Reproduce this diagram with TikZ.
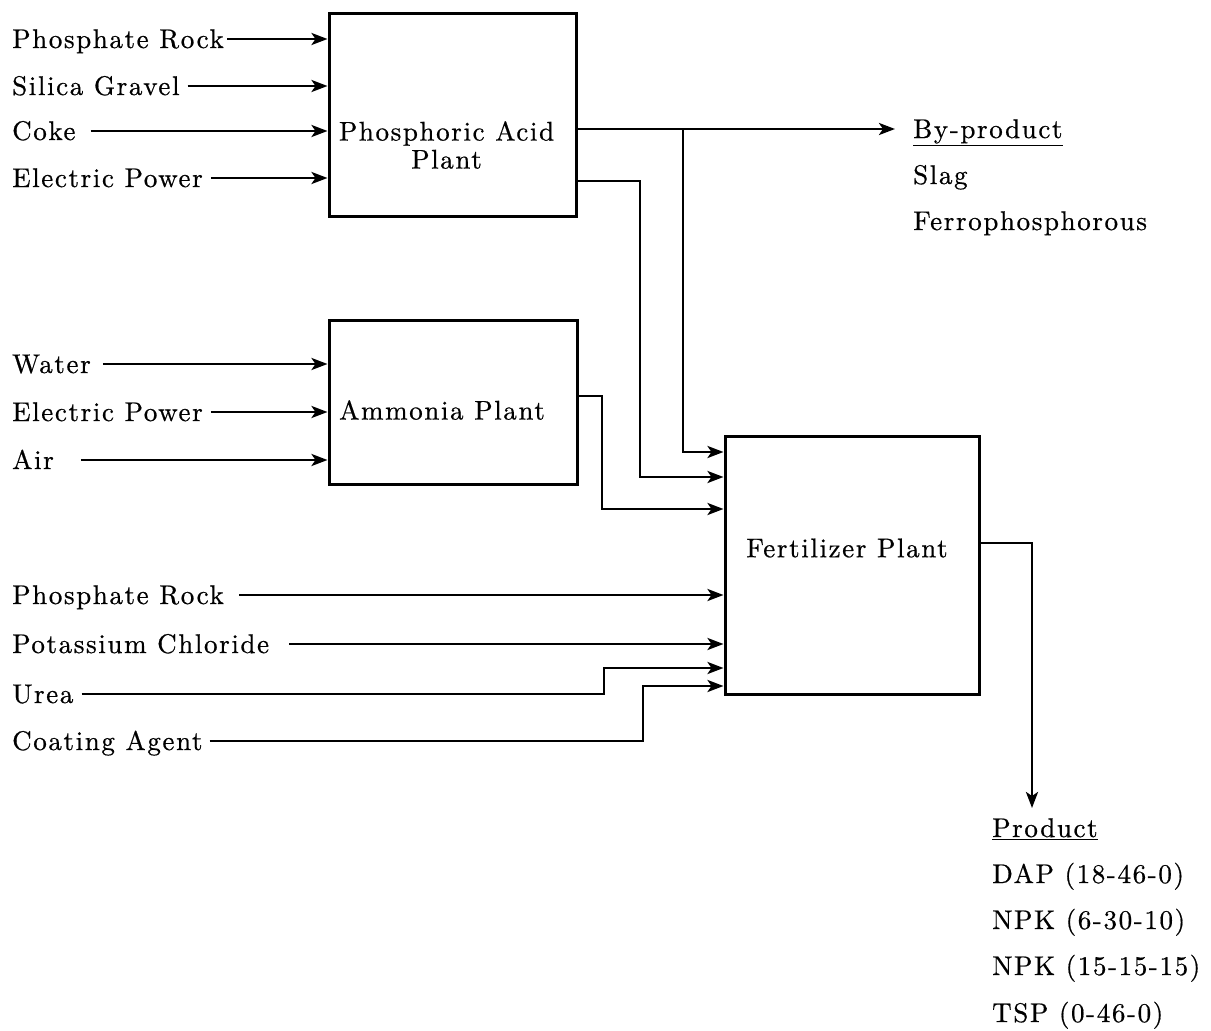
\documentclass[tikz,border=0pt]{standalone}
\usepackage{fontspec}
\usepackage{tikz}
\usetikzlibrary{arrows.meta}

\newfontfamily\dfont{lmroman10-regular.otf}[LetterSpace=6,FakeBold=0.6]

\tikzset{
  txt/.style={font=\dfont\fontsize{27}{31}\selectfont, inner sep=0pt, text height=18pt, text depth=0pt},
  boxtxt/.style={font=\dfont\fontsize{27}{28}\selectfont, inner sep=0pt, align=center},
  plant/.style={draw, line width=3pt, inner sep=0pt},
  flow/.style={line width=2.8pt, -{Stealth[length=16pt,width=12pt,inset=4pt]}},
}

\begin{document}
\begin{tikzpicture}[x=1pt,y=-1pt]
\useasboundingbox (0,0) rectangle (1211,1031);
% Plants
\node[plant, minimum width=247, minimum height=203] (pa) at (452.5,114.5) {};
\node[boxtxt] (pa-txt) at (446.5,145) {Phosphoric Acid\\Plant};
\node[plant, minimum width=248, minimum height=164] (am) at (453,402) {};
\node[boxtxt] (am-txt) at (442,410) {Ammonia Plant};
\node[plant, minimum width=254, minimum height=258] (fert) at (852,565) {};
\node[boxtxt] (fert-txt) at (847,548) {Fertilizer Plant};
% Feeds of the phosphoric acid plant
\foreach \n/\t/\y/\g in {1/Phosphate Rock/39/3, 2/Silica Gravel/86/8, 3/Coke/131/15, 4/Electric Power/178/8} {
  \node[txt, anchor=west] (pa-in\n) at (12,\y) {\t};
  \draw[flow, shorten <=\g pt] (pa-in\n.east) -- (pa-in\n -| pa.west);
}
% Feeds of the ammonia plant
\foreach \n/\t/\y/\g in {1/Water/364/12, 2/Electric Power/412/8, 3/Air/460/27} {
  \node[txt, anchor=west] (am-in\n) at (12,\y) {\t};
  \draw[flow, shorten <=\g pt] (am-in\n.east) -- (am-in\n -| am.west);
}
% Direct feeds of the fertilizer plant
\foreach \n/\t/\y/\g in {1/Phosphate Rock/595/15, 2/Potassium Chloride/644/20} {
  \node[txt, anchor=west] (fp-in\n) at (12,\y) {\t};
  \draw[flow, shorten <=\g pt] (fp-in\n.east) -- (fp-in\n -| fert.west);
}
\node[txt, anchor=west] (urea) at (12,694) {Urea};
\draw[flow, shorten <=8pt] (urea.east) -| (604,668) -- (fert.west |- 0,668);
\node[txt, anchor=west] (coat) at (12,741) {Coating Agent};
\draw[flow, shorten <=7pt] (coat.east) -| (643,686) -- (fert.west |- 0,686);
% By-product
\node[txt, anchor=west] (byp) at (913,129) {\underline{By-product}};
\node[txt, anchor=west] (slag) at (913,175) {Slag};
\node[txt, anchor=west] (ferro) at (913,221) {Ferrophosphorous};
\draw[flow] (pa.east |- 0,129) -- ([xshift=-18pt]byp.west);
\coordinate (split) at (683,129);
\draw[flow] (split) |- (fert.west |- 0,452);
\draw[flow] (pa.east |- 0,181) -| (640,477) -- (fert.west |- 0,477);
% Ammonia to fertilizer plant
\draw[flow] (am.east |- 0,396) -| (602,509) -- (fert.west |- 0,509);
% Product
\node[txt, anchor=west] (prod) at (992,828) {\underline{Product}};
\foreach \n/\t/\y in {1/DAP (18-46-0)/874, 2/NPK (6-30-10)/920, 3/NPK (15-15-15)/966, 4/TSP (0-46-0)/1013} {
  \node[txt, anchor=west] (prod\n) at (992,\y) {\t};
}
\coordinate (prod-in) at (1032,808);
\draw[flow] (fert.east |- 0,543) -| (prod-in);
\end{tikzpicture}
\end{document}
